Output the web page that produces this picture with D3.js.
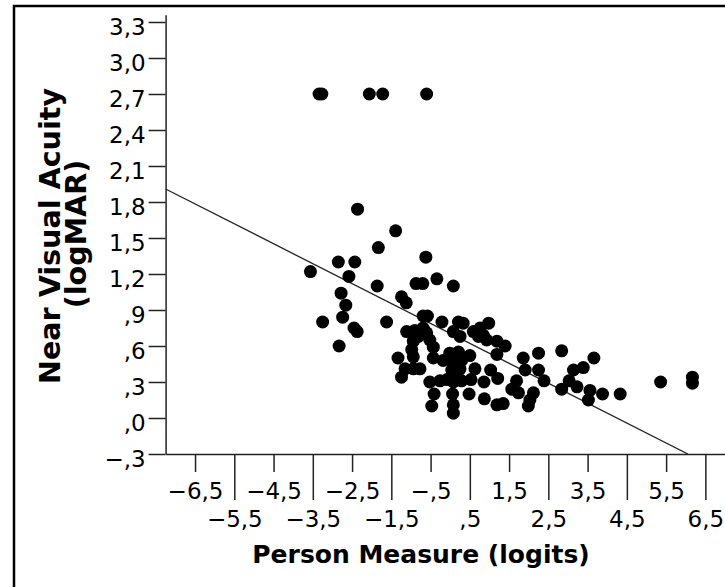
<!DOCTYPE html>
<html>
<head>
<meta charset="utf-8">
<script src="https://cdn.jsdelivr.net/npm/d3@7"></script>
<style>
  html, body { margin: 0; padding: 0; background: #fff; }
  svg { display: block; font-family: "DejaVu Sans", Verdana, sans-serif; }
</style>
</head>
<body>
<svg id="chart" width="725" height="587"></svg>
<script>
// Person measure (logits) for each respondent
const personMeasure = [
  -3.34, -3.27, -2.06, -1.72, -0.60,
  -2.36, -1.39, -1.83, -0.62, -2.85, -2.43, -3.56, -2.58, -0.34, -0.87,
  -0.70, -1.86, 0.08, -2.78, -1.24, -1.12, -2.66, -2.74, -3.25, -1.62,
  -0.69, -0.58, -0.21, -2.45, -2.37, -2.83, -1.11, -0.90, -0.69, -0.81,
  -0.60, -0.94, -0.98, -0.94, -0.52, -0.43, -1.33, -0.43, -0.18, 0.21,
  0.33, 0.08, 0.25, -0.01, 0.21, 0.50, 0.29, 0.76, 0.98, 0.84,
  0.59, 0.72, 0.93, 1.19, 1.40, 1.19, -1.15, -0.94, -0.77, -1.24,
  0.04, 0.04, 0.25, 0.17, 0.63, 1.03, -0.52, -0.26, -0.08, 0.08,
  0.29, 0.53, 0.86, 1.21, -0.41, 0.06, 0.08, 0.08, 0.48, 0.87,
  -0.47, 1.19, 2.25, 2.84, 1.86, 3.66, 1.91, 2.25, 3.14, 3.39,
  2.39, 1.69, 1.57, 1.74, 3.03, 3.23, 2.84, 2.12, 2.03, 1.99,
  3.56, 3.52, 3.88, 4.33, 1.35, 5.36, 6.17, 6.17
];

// Near visual acuity (logMAR) for the same respondents
const nearAcuity = [
  2.70, 2.70, 2.70, 2.70, 2.70,
  1.74, 1.56, 1.42, 1.34, 1.30, 1.30, 1.22, 1.18, 1.16, 1.12,
  1.12, 1.10, 1.10, 1.04, 1.01, 0.96, 0.94, 0.84, 0.80, 0.80,
  0.85, 0.85, 0.80, 0.75, 0.72, 0.60, 0.72, 0.73, 0.75, 0.68,
  0.71, 0.64, 0.57, 0.51, 0.65, 0.59, 0.50, 0.50, 0.48, 0.80,
  0.79, 0.72, 0.68, 0.54, 0.55, 0.52, 0.48, 0.75, 0.79, 0.69,
  0.72, 0.68, 0.65, 0.64, 0.60, 0.53, 0.41, 0.41, 0.41, 0.34,
  0.47, 0.40, 0.41, 0.36, 0.41, 0.40, 0.30, 0.31, 0.32, 0.30,
  0.31, 0.32, 0.30, 0.33, 0.20, 0.20, 0.11, 0.04, 0.20, 0.16,
  0.10, 0.11, 0.54, 0.56, 0.50, 0.50, 0.40, 0.40, 0.40, 0.42,
  0.31, 0.31, 0.24, 0.21, 0.31, 0.26, 0.24, 0.21, 0.15, 0.10,
  0.23, 0.15, 0.20, 0.20, 0.12, 0.30, 0.34, 0.29
];

// Y axis ticks (logMAR), comma decimal style
const yTickValues = [-0.3, 0.0, 0.3, 0.6, 0.9, 1.2, 1.5, 1.8, 2.1, 2.4, 2.7, 3.0, 3.3];
const yTickLabels = ["\u2212,3", ",0", ",3", ",6", ",9", "1,2", "1,5", "1,8", "2,1", "2,4", "2,7", "3,0", "3,3"];

// X axis ticks, staggered on two rows
const xTickValuesUpper = [-6.5, -4.5, -2.5, -0.5, 1.5, 3.5, 5.5];
const xTickLabelsUpper = ["\u22126,5", "\u22124,5", "\u22122,5", "\u2212,5", "1,5", "3,5", "5,5"];
const xTickValuesLower = [-5.5, -3.5, -1.5, 0.5, 2.5, 4.5, 6.5];
const xTickLabelsLower = ["\u22125,5", "\u22123,5", "\u22121,5", ",5", "2,5", "4,5", "6,5"];

// Linear fit: acuity = intercept + slope * measure
const fitIntercept = 0.705;
const fitSlope = -0.166;

const xDomain = [-7.25, 7.0];
const yDomain = [-0.3, 3.36];

const svg = d3.select("#chart");

// outer frame
svg.append("rect")
  .attr("x", 14).attr("y", 6)
  .attr("width", 800).attr("height", 700)
  .attr("fill", "none").attr("stroke", "#000").attr("stroke-width", 2.5);

const plot = { left: 165.6, right: 725, top: 14.8, bottom: 454 };

const x = d3.scaleLinear().domain(xDomain).range([plot.left, plot.right]);
const y = d3.scaleLinear().domain(yDomain).range([plot.bottom, plot.top]);

svg.append("clipPath").attr("id", "plotClip")
  .append("rect")
  .attr("x", plot.left).attr("y", plot.top)
  .attr("width", plot.right - plot.left).attr("height", plot.bottom - plot.top);

// fit line, from the left edge down to the bottom of the value range
const fitEnd = (yDomain[0] - fitIntercept) / fitSlope;
const fitXs = [xDomain[0], fitEnd];
svg.append("path")
  .attr("clip-path", "url(#plotClip)")
  .attr("d", d3.line().x(d => x(d)).y(d => y(fitIntercept + fitSlope * d))(fitXs))
  .attr("fill", "none").attr("stroke", "#222").attr("stroke-width", 1.3);

// data points
const points = personMeasure.map((m, i) => ({ m, v: nearAcuity[i] }));
svg.append("g")
  .selectAll("circle")
  .data(points)
  .join("circle")
  .attr("cx", d => x(d.m))
  .attr("cy", d => y(d.v))
  .attr("r", 6.5)
  .attr("fill", "#000");

const tickFont = 23;

// Y axis
const yAxis = svg.append("g")
  .attr("transform", `translate(${plot.left},0)`)
  .call(d3.axisLeft(y)
    .tickValues(yTickValues)
    .tickFormat((d, i) => yTickLabels[i])
    .tickSize(17).tickSizeOuter(0).tickPadding(3));
yAxis.selectAll("text")
  .attr("font-size", tickFont).attr("fill", "#000")
  .attr("font-family", "DejaVu Sans, sans-serif")
  .attr("dy", "0.55em");

// X axis, upper row (short ticks)
const xAxisUpper = svg.append("g")
  .attr("transform", `translate(0,${plot.bottom})`)
  .call(d3.axisBottom(x)
    .tickValues(xTickValuesUpper)
    .tickFormat((d, i) => xTickLabelsUpper[i])
    .tickSize(18).tickSizeOuter(0));
xAxisUpper.selectAll("text")
  .attr("font-size", tickFont).attr("fill", "#000")
  .attr("font-family", "DejaVu Sans, sans-serif")
  .attr("y", 45).attr("dy", 0);

// X axis, lower row (long ticks)
const xAxisLower = svg.append("g")
  .attr("transform", `translate(0,${plot.bottom})`)
  .call(d3.axisBottom(x)
    .tickValues(xTickValuesLower)
    .tickFormat((d, i) => xTickLabelsLower[i])
    .tickSize(46).tickSizeOuter(0));
xAxisLower.select(".domain").remove();
xAxisLower.selectAll("text")
  .attr("font-size", tickFont).attr("fill", "#000")
  .attr("font-family", "DejaVu Sans, sans-serif")
  .attr("y", 73).attr("dy", 0);

svg.selectAll(".domain, .tick line")
  .attr("stroke", "#222").attr("stroke-width", 1.5);

// axis titles
svg.append("text")
  .attr("x", 421).attr("y", 563)
  .attr("text-anchor", "middle")
  .attr("font-size", 25).attr("font-weight", "bold")
  .text("Person Measure (logits)");

const yTitle = svg.append("g");
yTitle.append("text")
  .attr("transform", "translate(60,236) rotate(-90)")
  .attr("text-anchor", "middle")
  .attr("font-size", 28.6).attr("font-weight", "bold")
  .text("Near Visual Acuity");
yTitle.append("text")
  .attr("transform", "translate(86,234) rotate(-90)")
  .attr("text-anchor", "middle")
  .attr("font-size", 28.6).attr("font-weight", "bold")
  .text("(logMAR)");
</script>
</body>
</html>
